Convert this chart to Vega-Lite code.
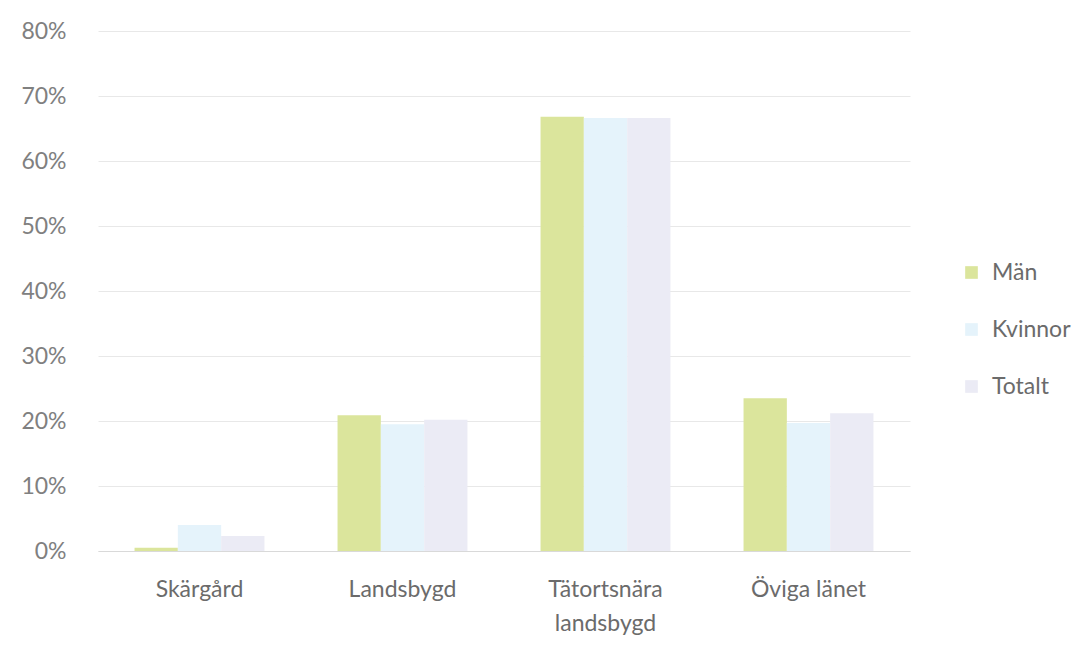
{
  "$schema": "https://vega.github.io/schema/vega-lite/v6.json",
  "autosize": "none",
  "padding": {"left": 98, "top": 31, "right": 176, "bottom": 94},
  "width": 812,
  "height": 520,
  "background": "white",
  "config": {"view": {"stroke": null}, "font": "Lato"},
  "data": {
    "values": [
      {"omrade": "Skärgård", "grupp": "Män", "andel": 0.005},
      {"omrade": "Skärgård", "grupp": "Kvinnor", "andel": 0.04},
      {"omrade": "Skärgård", "grupp": "Totalt", "andel": 0.023},
      {"omrade": "Landsbygd", "grupp": "Män", "andel": 0.209},
      {"omrade": "Landsbygd", "grupp": "Kvinnor", "andel": 0.195},
      {"omrade": "Landsbygd", "grupp": "Totalt", "andel": 0.202},
      {"omrade": "Tätortsnära landsbygd", "grupp": "Män", "andel": 0.668},
      {"omrade": "Tätortsnära landsbygd", "grupp": "Kvinnor", "andel": 0.666},
      {"omrade": "Tätortsnära landsbygd", "grupp": "Totalt", "andel": 0.666},
      {"omrade": "Öviga länet", "grupp": "Män", "andel": 0.235},
      {"omrade": "Öviga länet", "grupp": "Kvinnor", "andel": 0.197},
      {"omrade": "Öviga länet", "grupp": "Totalt", "andel": 0.212}
    ]
  },
  "mark": {"type": "bar"},
  "encoding": {
    "x": {
      "field": "omrade",
      "type": "nominal",
      "sort": ["Skärgård", "Landsbygd", "Tätortsnära landsbygd", "Öviga länet"],
      "scale": {"paddingInner": 0.36, "paddingOuter": 0.18},
      "axis": {
        "title": null,
        "labelAngle": 0,
        "labelFontSize": 23,
        "labelColor": "#6b6b6b",
        "labelPadding": 27,
        "ticks": false,
        "domainColor": "#d9d9d9",
        "labelExpr": "datum.label == 'Tätortsnära landsbygd' ? ['Tätortsnära', 'landsbygd'] : datum.label",
        "labelLineHeight": 34
      }
    },
    "xOffset": {
      "field": "grupp",
      "type": "nominal",
      "sort": ["Män", "Kvinnor", "Totalt"]
    },
    "y": {
      "field": "andel",
      "type": "quantitative",
      "scale": {"domain": [0, 0.8]},
      "axis": {
        "title": null,
        "format": ".0%",
        "values": [0, 0.1, 0.2, 0.3, 0.4, 0.5, 0.6, 0.7, 0.8],
        "labelFontSize": 23,
        "labelColor": "#808080",
        "labelPadding": 32,
        "ticks": false,
        "domain": false,
        "gridColor": "#e8e8e8"
      }
    },
    "color": {
      "field": "grupp",
      "type": "nominal",
      "sort": ["Män", "Kvinnor", "Totalt"],
      "scale": {"domain": ["Män", "Kvinnor", "Totalt"], "range": ["#dbe59c", "#e5f3fb", "#ebebf5"]},
      "legend": {
        "title": null,
        "orient": "none",
        "legendX": 862,
        "legendY": 230,
        "symbolType": "square",
        "symbolSize": 160,
        "labelFontSize": 23,
        "labelColor": "#6b6b6b",
        "rowPadding": 33,
        "labelOffset": 9
      }
    }
  }
}
